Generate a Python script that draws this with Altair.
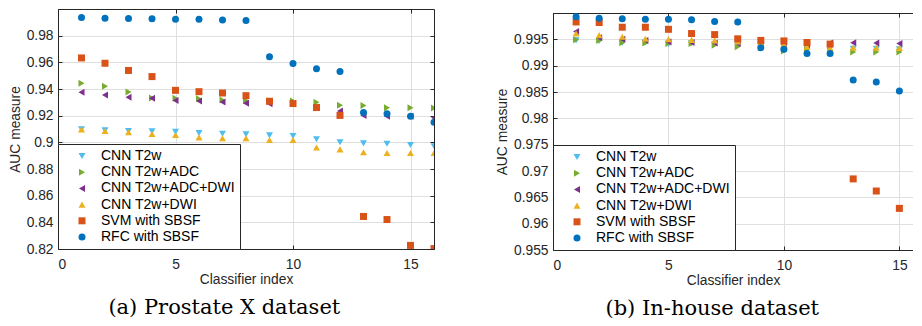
import altair as alt
import pandas as pd

idx = list(range(1, 17))
series = ["CNN T2w", "CNN T2w+ADC", "CNN T2w+ADC+DWI", "CNN T2w+DWI", "SVM with SBSF", "RFC with SBSF"]
colors = ["#4DBEEE", "#77AC30", "#7E2F8E", "#EDB120", "#D95319", "#0072BD"]
shapes = ["triangle-down", "triangle-right", "triangle-left", "triangle-up", "square", "circle"]
sizes = [49, 49, 49, 49, 30, 42]

# (a) Prostate X dataset
a_cnn_t2w = [0.9097, 0.9090, 0.9085, 0.9082, 0.9080, 0.9070, 0.9065, 0.9060, 0.9052, 0.9047, 0.9023, 0.9000, 0.8992, 0.8990, 0.8980, 0.8970]
a_cnn_adc = [0.9444, 0.9421, 0.9377, 0.9333, 0.9330, 0.9327, 0.9318, 0.9313, 0.9310, 0.9310, 0.9300, 0.9279, 0.9277, 0.9260, 0.9260, 0.9257]
a_cnn_adc_dwi = [0.9375, 0.9355, 0.9338, 0.9330, 0.9313, 0.9310, 0.9303, 0.9294, 0.9290, 0.9290, 0.9264, 0.9235, 0.9202, 0.9195, 0.9195, 0.9185]
a_cnn_dwi = [0.9097, 0.9085, 0.9075, 0.9062, 0.9055, 0.9037, 0.9030, 0.9030, 0.9018, 0.9018, 0.8961, 0.8947, 0.8925, 0.8920, 0.8920, 0.8920]
a_svm = [0.9633, 0.9593, 0.9539, 0.9493, 0.9390, 0.9380, 0.9370, 0.9350, 0.9308, 0.9291, 0.9261, 0.9202, 0.8444, 0.8421, 0.8227, 0.8203]
a_rfc = [0.9936, 0.9931, 0.9928, 0.9926, 0.9923, 0.9923, 0.9918, 0.9914, 0.9641, 0.9591, 0.9552, 0.9532, 0.9224, 0.9215, 0.9195, 0.9151]

# (b) In-house dataset
b_cnn_t2w = [0.9948, 0.9947, 0.99435, 0.9944, 0.99405, 0.9942, 0.9941, 0.9940, 0.9938, 0.9937, 0.9934, 0.9933, 0.9932, 0.9932, 0.9931, 0.9930]
b_cnn_adc = [0.9949, 0.9948, 0.99435, 0.9943, 0.9942, 0.9942, 0.9939, 0.9936, 0.9934, 0.9928, 0.9930, 0.9929, 0.9926, 0.9926, 0.9926, 0.9924]
b_cnn_adc_dwi = [0.9965, 0.9953, 0.9950, 0.9948, 0.9945, 0.9944, 0.9943, 0.9942, 0.9940, 0.9940, 0.9939, 0.9943, 0.99435, 0.9943, 0.9942, 0.9941]
b_cnn_dwi = [0.9961, 0.9958, 0.9955, 0.9951, 0.9950, 0.9949, 0.9948, 0.9946, 0.9944, 0.99405, 0.9936, 0.99335, 0.9934, 0.9934, 0.99335, 0.9933]
b_svm = [0.9983, 0.9982, 0.9973, 0.9973, 0.9969, 0.9961, 0.9959, 0.9951, 0.9948, 0.9947, 0.9944, 0.9941, 0.9685, 0.9662, 0.9629, 0.9571]
b_rfc = [0.9993, 0.9990, 0.9989, 0.9988, 0.9988, 0.9987, 0.9984, 0.9983, 0.9934, 0.9931, 0.9923, 0.9923, 0.9873, 0.9869, 0.9852, 0.9824]

x_ticks = [0, 5, 10, 15]
a_y_ticks = [0.82, 0.84, 0.86, 0.88, 0.90, 0.92, 0.94, 0.96, 0.98]
b_y_ticks = [0.955, 0.96, 0.965, 0.97, 0.975, 0.98, 0.985, 0.99, 0.995]

AX = "#262626"


def long_df(cols):
    rows = []
    for name, vals in zip(series, cols):
        for i, v in zip(idx, vals):
            rows.append({"idx": i, "auc": v, "series": name})
    return pd.DataFrame(rows)


def panel(df, xmax, ydom, yticks, yfmt, W, H, caption, dx, right_edge=True):
    xs = alt.Scale(domain=[0, xmax], nice=False, zero=False)
    ys = alt.Scale(domain=ydom, nice=False, zero=False)
    leg = alt.Legend(title=None, orient="bottom-left", offset=0, symbolSize=30,
                     symbolOffset=12, labelOffset=12, rowPadding=2.2,
                     labelFont="Liberation Sans", labelFontSize=14, labelColor="black")
    base = alt.Chart(df)
    pts = base.mark_point(filled=True, opacity=1, strokeWidth=0, clip=True).encode(
        x=alt.X("idx:Q", scale=xs, title="Classifier index",
                axis=alt.Axis(values=x_ticks, grid=True, ticks=False, domain=True,
                              labelPadding=8, titlePadding=2)),
        y=alt.Y("auc:Q", scale=ys, title="AUC measure",
                axis=alt.Axis(values=yticks, format=yfmt, grid=True, ticks=False, domain=True,
                              labelPadding=5, titlePadding=4)),
        color=alt.Color("series:N", scale=alt.Scale(domain=series, range=colors), legend=leg),
        shape=alt.Shape("series:N", scale=alt.Scale(domain=series, range=shapes), legend=leg),
        size=alt.Size("series:N", scale=alt.Scale(domain=series, range=sizes), legend=None),
    )

    def tick_axis(orient, off, vals):
        return alt.Axis(orient=orient, offset=off, values=vals, labels=False, grid=False,
                        ticks=True, tickSize=4, domain=True, title=None)

    inv = base.mark_point(opacity=0, size=1, clip=True)
    t1 = inv.encode(
        x=alt.X("idx:Q", scale=xs, axis=tick_axis("top", -H, x_ticks)),
        y=alt.Y("auc:Q", scale=ys, axis=tick_axis("right", -W, yticks)),
    )
    t2 = inv.encode(
        x=alt.X("idx:Q", scale=xs, axis=tick_axis("bottom", -H, x_ticks)),
        y=alt.Y("auc:Q", scale=ys,
                axis=tick_axis("left", -W, yticks) if right_edge else None),
    )
    return alt.layer(pts, t1, t2).resolve_axis(x="independent", y="independent").properties(
        width=W, height=H,
        title=alt.Title(caption, orient="bottom", anchor="middle", frame="bounds",
                        font="DejaVu Serif", fontSize=21, fontWeight="normal",
                        color="black", offset=10, dx=dx),
    )


pa = panel(long_df([a_cnn_t2w, a_cnn_adc, a_cnn_adc_dwi, a_cnn_dwi, a_svm, a_rfc]),
           16, [0.82, 1.0], a_y_ticks, ".2~f", 376, 240, "(a) Prostate X dataset", 3)
pb = panel(long_df([b_cnn_t2w, b_cnn_adc, b_cnn_adc_dwi, b_cnn_dwi, b_svm, b_rfc]),
           15.59, [0.955, 1.0], b_y_ticks, ".3~f", 360, 237, "(b) In-house dataset", 8,
           right_edge=False)

spacer = alt.Chart(pd.DataFrame({"s": [0]})).mark_point(size=0, opacity=0).encode(
    x=alt.value(0), y=alt.value(0)
).properties(width=360, height=1)

pb_group = alt.vconcat(spacer, pb, spacing=2).resolve_scale(
    color="independent", shape="independent", size="independent"
).resolve_legend(color="independent", shape="independent", size="independent")

chart = alt.hconcat(pa, pb_group, spacing=60).resolve_scale(
    color="independent", shape="independent", size="independent"
).resolve_legend(
    color="independent", shape="independent", size="independent"
).properties(
    padding={"left": 0, "top": 0, "right": 0, "bottom": 0}
).configure(
    font="Liberation Sans"
).configure_view(
    stroke=None
).configure_axis(
    labelFont="Liberation Sans", labelFontSize=13.8, labelColor=AX,
    titleFont="Liberation Sans", titleFontSize=13.8, titleColor=AX, titleFontWeight="normal",
    domainColor=AX, domainWidth=1, tickColor=AX, tickWidth=1,
    gridColor="#dfdfdf", gridWidth=1,
).configure_legend(
    strokeColor=AX, fillColor="white", padding=5, strokeWidth=1, cornerRadius=0
)

chart.save("out.html", embed_options={"renderer": "svg", "actions": False})
